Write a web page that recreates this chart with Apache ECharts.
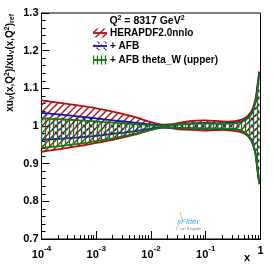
<!DOCTYPE html>
<html><head><meta charset="utf-8">
<script src="https://cdn.jsdelivr.net/npm/echarts@6/dist/echarts.min.js"></script>
<style>html,body{margin:0;padding:0;background:#fff}#c{width:274px;height:266px}</style>
</head><body><div id="c"></div>
<script>
// ---- data ----
const xs = [1e-4, 2e-4, 5e-4, 1e-3, 2e-3, 5e-3, 1e-2, 1.5e-2, 2e-2, 3e-2, 5e-2, 0.1, 0.2, 0.3, 0.4, 0.5, 0.6, 0.7, 0.8, 0.85, 0.9, 0.95];
const heraUp  = [1.068,1.062,1.054,1.047,1.038,1.024,1.010,1.004,1.004,1.007,1.013,1.015,1.012,1.012,1.015,1.020,1.028,1.042,1.068,1.090,1.118,1.145];
const heraLo  = [0.932,0.938,0.947,0.955,0.963,0.977,0.990,0.996,0.996,0.992,0.990,0.988,0.990,0.988,0.985,0.980,0.972,0.957,0.930,0.903,0.873,0.850];
const afbUp   = [1.035,1.031,1.025,1.020,1.015,1.009,1.004,1.002,1.002,1.004,1.007,1.008,1.007,1.008,1.010,1.015,1.023,1.036,1.062,1.085,1.115,1.142];
const afbLo   = [0.963,0.966,0.970,0.974,0.979,0.986,0.993,0.996,0.996,0.995,0.994,0.993,0.993,0.992,0.990,0.984,0.975,0.960,0.932,0.905,0.875,0.848];
const thwUp   = [1.020,1.018,1.015,1.012,1.009,1.005,1.002,1.001,1.002,1.004,1.006,1.007,1.006,1.007,1.009,1.014,1.022,1.035,1.060,1.082,1.110,1.140];
const thwLo   = [0.942,0.946,0.953,0.960,0.967,0.979,0.990,0.995,0.996,0.995,0.994,0.993,0.993,0.992,0.989,0.983,0.974,0.958,0.930,0.903,0.872,0.845];
const legendNames = ['HERAPDF2.0nnlo', '+ AFB', '+ AFB theta_W (upper)'];
const xTickExps = [-4, -3, -2, -1, 0];
const xMinorTicks = [];
[1e-4,1e-3,1e-2,1e-1].forEach(d => { for (let k = 2; k <= 9; k++) xMinorTicks.push(+(k*d).toPrecision(3)); });
const yMin = 0.7, yMax = 1.3, yStep = 0.1;

// ---- styles ----
const RED = '#b01010', BLUE = '#1414b4', GREEN = '#147814';
const FONT = 'Liberation Sans';

function pattern(kind, color) {
  const c = document.createElement('canvas');
  const s = kind === 'green' ? 4 : 7;
  c.width = s; c.height = s;
  const g = c.getContext('2d');
  g.strokeStyle = color; g.lineWidth = 1.3;
  if (kind === 'red') {
    g.beginPath(); g.moveTo(-1, s + 1); g.lineTo(s + 1, -1); g.stroke();
    g.beginPath(); g.moveTo(-1, 1); g.lineTo(1, -1); g.stroke();
    g.beginPath(); g.moveTo(s - 1, s + 1); g.lineTo(s + 1, s - 1); g.stroke();
  } else if (kind === 'blue') {
    g.setLineDash([2, 2]);
    g.beginPath(); g.moveTo(0, 0); g.lineTo(s, s); g.stroke();
  } else {
    g.beginPath(); g.moveTo(1.5, 0); g.lineTo(1.5, s); g.stroke();
  }
  return { image: c, repeat: 'repeat' };
}
const pats = { red: pattern('red', RED), blue: pattern('blue', BLUE), green: pattern('green', GREEN) };

function band(name, up, lo, color, pat, z) {
  return {
    name: name, type: 'custom', coordinateSystem: 'cartesian2d', z: z, silent: true, clip: true,
    data: xs.map((x, i) => [x, lo[i], up[i]]),
    encode: { x: 0, y: [1, 2] },
    renderItem: function (params, api) {
      if (params.dataIndex !== 0) return null;
      const upPts = [], loPts = [];
      for (let i = 0; i < xs.length; i++) {
        upPts.push(api.coord([xs[i], up[i]]));
        loPts.push(api.coord([xs[i], lo[i]]));
      }
      const poly = upPts.concat(loPts.slice().reverse());
      return {
        type: 'group',
        children: [
          { type: 'polygon', shape: { points: poly, smooth: 0.25 }, style: { fill: pat, stroke: null } },
          { type: 'polyline', shape: { points: upPts, smooth: 0.25 }, style: { stroke: color, lineWidth: 1.8, fill: null } },
          { type: 'polyline', shape: { points: loPts, smooth: 0.25 }, style: { stroke: color, lineWidth: 1.8, fill: null } }
        ]
      };
    }
  };
}

const chart = echarts.init(document.getElementById('c'), null, { renderer: 'canvas' });
const grid = { left: 41.5, right: 13.5, top: 13, bottom: 27 };
const series = [
  band('hera', heraUp, heraLo, RED, pats.red, 2),
  band('afb', afbUp, afbLo, BLUE, pats.blue, 3),
  band('thw', thwUp, thwLo, GREEN, pats.green, 4)
];

function legendItem(i, color, pat, y) {
  return [
    { type: 'rect', shape: { x: 93, y: y - 4.5, width: 14, height: 9 }, style: { fill: pat, stroke: null }, z: 10 },
    { type: 'line', shape: { x1: 93, y1: y, x2: 107, y2: y }, style: { stroke: color, lineWidth: 1.8 }, z: 10 },
    { type: 'text', x: 110, y: y, style: { text: legendNames[i], font: 'bold 10px ' + FONT, fill: '#000', verticalAlign: 'middle', align: 'left' }, z: 10 }
  ];
}

const option = {
  animation: false,
  grid: Object.assign({ show: true, borderColor: '#000', borderWidth: 1, backgroundColor: 'transparent' }, grid),
  xAxis: [{
    type: 'log', logBase: 10, min: 1e-4, max: 1,
    axisLine: { show: true, lineStyle: { color: '#000', width: 1 } },
    axisTick: { show: true, inside: true, length: 8, lineStyle: { color: '#000' } },
    splitLine: { show: false },
    axisLabel: {
      margin: 6,
      formatter: function (v) {
        const e = Math.round(Math.log10(v));
        if (xTickExps.indexOf(e) < 0) return '';
        return e === 0 ? '{b|1}' : '{b|10}{s|' + e + '}';
      },
      rich: {
        b: { fontFamily: FONT, fontWeight: 'bold', fontSize: 11, color: '#000', verticalAlign: 'bottom' },
        s: { fontFamily: FONT, fontWeight: 'bold', fontSize: 8, color: '#000', verticalAlign: 'top', padding: [0, 0, 7, 0] }
      }
    }
  }, {
    type: 'log', logBase: 10, min: 1e-4, max: 1, position: 'bottom',
    axisLine: { show: false },
    axisLabel: { show: false },
    splitLine: { show: false },
    axisTick: { show: true, inside: true, length: 4, customValues: xMinorTicks, lineStyle: { color: '#000' } }
  }],
  yAxis: {
    type: 'value', min: yMin, max: yMax, interval: yStep,
    axisLine: { show: true, lineStyle: { color: '#000', width: 1 } },
    axisTick: { show: true, inside: true, length: 8, lineStyle: { color: '#000' } },
    minorTick: { show: true, splitNumber: 5, length: 4, lineStyle: { color: '#000' } },
    splitLine: { show: false },
    axisLabel: {
      margin: 3, fontFamily: FONT, fontWeight: 'bold', fontSize: 11, color: '#000',
      formatter: v => (Math.round(v * 10) / 10).toString()
    }
  },
  series: series,
  graphic: [].concat(
    [{ type: 'text', x: 147, y: 21, style: {
        text: '{n|Q}{u|2}{n| = 8317 GeV}{u|2}',
        rich: { n: { font: 'bold 10.5px ' + FONT, fill: '#000' }, u: { font: 'bold 7px ' + FONT, fill: '#000', padding: [0, 0, 6, 0] } },
        align: 'center', verticalAlign: 'middle' }, z: 10 }],
    legendItem(0, RED, pats.red, 33),
    legendItem(1, BLUE, pats.blue, 46),
    legendItem(2, GREEN, pats.green, 60),
    [{ type: 'text', x: 10, y: 14, rotation: Math.PI / 2, style: {
        text: '{n|xu}{d|V}{n|(x,Q}{u|2}{n|)/xu}{d|V}{n|(x,Q}{u|2}{n|)}{d|ref}',
        rich: { n: { font: 'bold 10px ' + FONT, fill: '#000' },
                d: { font: 'bold 7px ' + FONT, fill: '#000', padding: [5, 0, 0, 0] },
                u: { font: 'bold 7px ' + FONT, fill: '#000', padding: [0, 0, 5, 0] } },
        align: 'right', verticalAlign: 'middle' }, z: 10 },
     { type: 'text', x: 247, y: 258, style: { text: 'x', font: 'bold 11px ' + FONT, fill: '#000', align: 'center', verticalAlign: 'middle' }, z: 10 },
     { type: 'text', x: 177, y: 222, style: { text: 'xFitter', font: 'italic 8px ' + FONT, fill: '#3aa6dc', align: 'left', verticalAlign: 'middle' }, z: 10 },
     { type: 'text', x: 180, y: 229, style: { text: 'Let\'s fit together', font: '3px ' + FONT, fill: '#777', align: 'left', verticalAlign: 'middle' }, z: 10 },
     { type: 'line', shape: { x1: 180, y1: 212, x2: 182, y2: 219 }, style: { stroke: '#f0c040', lineWidth: 1 }, z: 10 },
     { type: 'line', shape: { x1: 176, y1: 230, x2: 180, y2: 222 }, style: { stroke: '#8cc8ec', lineWidth: 1 }, z: 10 }
    ]
  )
};
chart.setOption(option);
</script></body></html>
